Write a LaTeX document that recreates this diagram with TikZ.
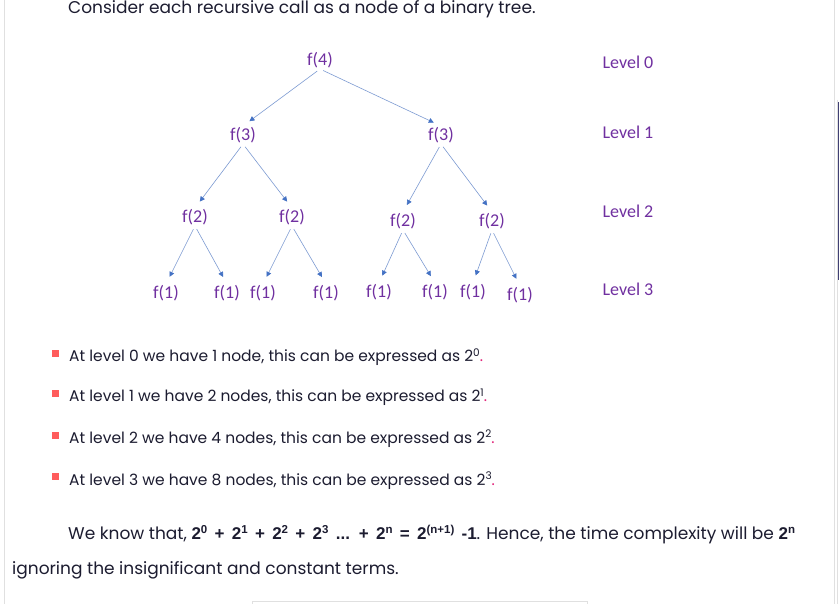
\documentclass[tikz,border=0pt]{standalone}
\usepackage{fontspec}
\usepackage{tikz}
\usetikzlibrary{arrows.meta}
\setmainfont{Poppins}
\newfontfamily\treefont{Carlito}
\newfontfamily\sumfont{Liberation Sans}
\definecolor{P}{RGB}{112,48,160}
\definecolor{B}{RGB}{68,114,196}
\definecolor{L}{RGB}{125,155,210}
\definecolor{T}{RGB}{28,28,48}
\definecolor{R}{RGB}{255,92,92}
\definecolor{M}{RGB}{226,36,122}
\definecolor{G}{RGB}{224,224,224}
\newcommand{\callnode}[4]{\node[call] (#1) at (#2,#3) {f(#4)};}
\newcommand{\drawcall}{\draw[line width=0.6pt,L,-{Triangle[length=5pt,width=5pt,color=B]},shorten <=3.5pt,shorten >=8pt]}
\newcommand{\pw}[1]{\raisebox{5.5pt}{\fontsize{10.5}{11}\selectfont #1}}
\newcommand{\bpw}[1]{\raisebox{6pt}{\fontsize{11.5}{12}\selectfont #1}}
\newcommand{\bsum}[1]{{\sumfont\bfseries\spaceskip=7.3pt #1}}
\tikzset{
  call/.style={font=\treefont\fontsize{18}{20}\selectfont,text=P,inner sep=1pt},
  levelname/.style={font=\treefont\fontsize{18}{20}\selectfont,text=P,inner sep=0pt},
  body/.style={font=\fontsize{15.5}{18}\selectfont,text=T,anchor=base west,inner sep=0pt},
  para/.style={body,font=\fontsize{17}{20}\selectfont}
}

\begin{document}
\begin{tikzpicture}[x=1pt,y=-1pt]
\useasboundingbox (0,0) rectangle (839,604);
\fill[white] (0,0) rectangle (839,604);
\draw[G] (4,0)--(4,604);
\draw[G] (834,0)--(834,604);
\draw[G] (837,100)--(837,604);
\fill[black!60!blue!50!gray] (837.5,102) rectangle (839,280);
\draw[G] (252,601) rectangle (587,612);
\node[para] (intro) at (68,13.5) {Consider each recursive call as a node of a binary tree.};
% tree
\callnode{f4}{320}{60}{4}
\callnode{f3a}{243}{135}{3}\callnode{f3b}{441}{135}{3}
\callnode{f2a}{195}{217}{2}\callnode{f2b}{292}{217}{2}\callnode{f2c}{403}{221}{2}\callnode{f2d}{492}{221}{2}
\callnode{f1a}{166}{293}{1}\callnode{f1b}{227}{293}{1}\callnode{f1c}{263}{293}{1}\callnode{f1d}{326}{293}{1}
\callnode{f1e}{379}{292}{1}\callnode{f1f}{435}{292}{1}\callnode{f1g}{473}{292}{1}\callnode{f1h}{520}{295}{1}
\foreach \p/\c in {f4/f3a,f4/f3b,f3a/f2a,f3a/f2b,f3b/f2c,f3b/f2d,f2a/f1a,f2a/f1b,f2b/f1c,f2b/f1d,f2c/f1e,f2c/f1f,f2d/f1g,f2d/f1h}{
  \drawcall (\p.south) -- (\c.north);
}
\foreach \lv/\y in {0/62,1/132,2/211,3/289}{
  \node[levelname] (lv\lv) at (628,\y) {Level \lv};
}
% counts
\foreach \lv/\nd/\yb in {0/1 node/361.7,1/2 nodes/401.7,2/4 nodes/443.3,3/8 nodes/485}{
  \fill[R] (52,\yb-11.7) rectangle ++(7,7);
  \node[body] (cnt\lv) at (69,\yb) {At level \lv{} we have \nd, this can be expressed as 2\pw{\lv}\textcolor{M}{.}};
}
\node[para] (sum) at (68,539) {We know that, \bsum{2\bpw{0} + 2\bpw{1} + 2\bpw{2} + 2\bpw{3} ... + 2\bpw{n} = 2\bpw{(n+1)} -1}. Hence, the time complexity will be \bsum{2\bpw{n}}};
\node[para] (sum2) at (12,574) {ignoring the insignificant and constant terms.};
\end{tikzpicture}
\end{document}
